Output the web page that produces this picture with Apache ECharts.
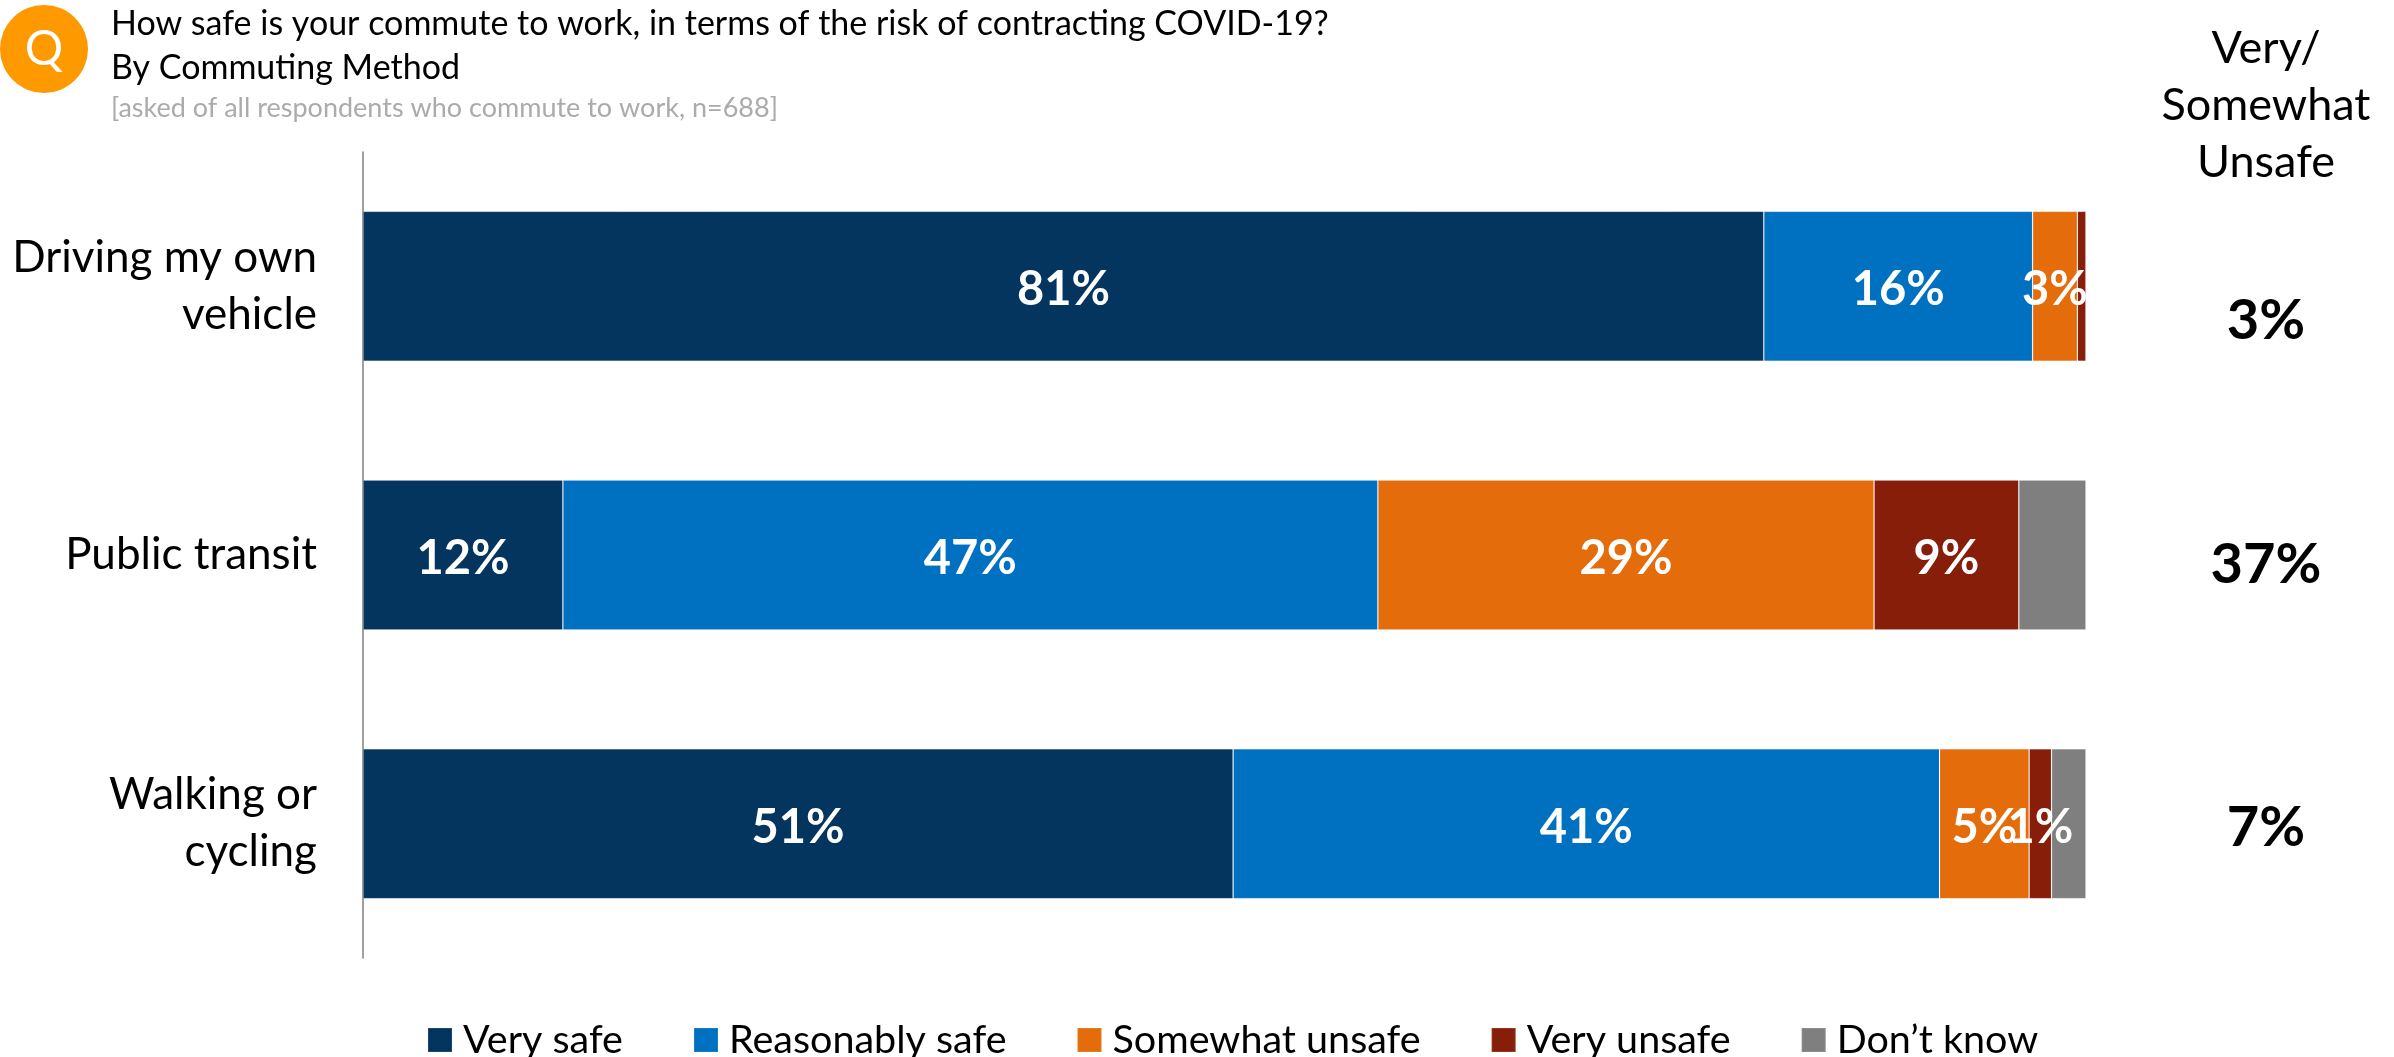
<!DOCTYPE html>
<html><head><meta charset="utf-8">
<style>html,body{margin:0;padding:0;background:#fff}#c{width:2394px;height:1057px}</style>
<script src="https://cdn.jsdelivr.net/npm/echarts@6/dist/echarts.min.js"></script>
</head><body><div id="c"></div>
<script>
const categories = ['Driving my own\nvehicle', 'Public transit', 'Walking or\ncycling'];
const seriesNames = ['Very safe', 'Reasonably safe', 'Somewhat unsafe', 'Very unsafe', 'Don\u2019t know'];
const colors = ['#03355F', '#0070C0', '#E46C0A', '#871E0A', '#7F7F7F'];
const verySafe = [81.3, 11.6, 50.5];
const reasonablySafe = [15.6, 47.3, 41.0];
const somewhatUnsafe = [2.6, 28.8, 5.2];
const veryUnsafe = [0.5, 8.4, 1.3];
const dontKnow = [0, 3.9, 2.0];
const verySafeLabels = ['81%', '12%', '51%'];
const reasonablySafeLabels = ['16%', '47%', '41%'];
const somewhatUnsafeLabels = ['3%', '29%', '5%'];
const veryUnsafeLabels = ['', '9%', '1%'];
const dontKnowLabels = ['', '', ''];
const netUnsafe = ['3%', '37%', '7%'];
const netUnsafeTitle = 'Very/\nSomewhat\nUnsafe';
const questionLines = ['How safe is your commute to work, in terms of the risk of contracting COVID-19?', 'By Commuting Method'];
const baseNote = '[asked of all respondents who commute to work, n=688]';

const FONT = 'Lato, "Open Sans", sans-serif';
const values = [verySafe, reasonablySafe, somewhatUnsafe, veryUnsafe, dontKnow];
const labels = [verySafeLabels, reasonablySafeLabels, somewhatUnsafeLabels, veryUnsafeLabels, dontKnowLabels];
const netY = [321, 565, 828];

const chart = echarts.init(document.getElementById('c'), null, {renderer: 'canvas'});
chart.setOption({
  animation: false,
  backgroundColor: '#fff',
  grid: {left: 363, top: 152, width: 1723, height: 806, containLabel: false},
  xAxis: {type: 'value', min: 0, max: 100, show: false},
  yAxis: {
    type: 'category', inverse: true, data: categories,
    axisLine: {show: true, lineStyle: {color: '#808080', width: 1.5}},
    axisTick: {show: false},
    axisLabel: {color: '#000', fontFamily: FONT, fontSize: 44, lineHeight: 57, align: 'right', margin: 46}
  },
  legend: {
    left: 427, top: 1020, padding: 0, itemWidth: 24, itemHeight: 24, itemGap: 70,
    icon: 'rect', data: seriesNames,
    textStyle: {color: '#000', fontFamily: FONT, fontSize: 39.5, lineHeight: 24, padding: [0, 0, 0, 6]},
    selectedMode: false
  },
  series: seriesNames.map((name, i) => ({
    name, type: 'bar', stack: 'total', barWidth: 150,
    data: values[i],
    itemStyle: {color: colors[i], borderColor: 'rgba(255,255,255,0.1)', borderWidth: 1},
    label: {
      show: true, position: 'inside', color: '#fff', fontFamily: FONT,
      fontWeight: 'bold', fontSize: 47,
      formatter: p => labels[i][p.dataIndex]
    },
    labelLayout: {hideOverlap: false, dy: 4},
    z: 2
  })),
  graphic: [
    {type: 'circle', shape: {cx: 44, cy: 49, r: 44}, style: {fill: '#FF9900'}},
    {type: 'text', x: 44, y: 50, style: {text: 'Q', fill: '#fff', font: '48px ' + FONT, align: 'center', verticalAlign: 'middle'}},
    {type: 'text', x: 111, y: 24, style: {text: questionLines[0], fill: '#000', font: '34px ' + FONT, align: 'left', verticalAlign: 'middle'}},
    {type: 'text', x: 111, y: 68, style: {text: questionLines[1], fill: '#000', font: '34px ' + FONT, align: 'left', verticalAlign: 'middle'}},
    {type: 'text', x: 111, y: 108, style: {text: baseNote, fill: '#ABABAB', font: '27px ' + FONT, align: 'left', verticalAlign: 'middle'}},
    {type: 'text', x: 2266, y: 105, style: {text: netUnsafeTitle, fill: '#000', font: '45px ' + FONT, lineHeight: 57, align: 'center', verticalAlign: 'middle'}},
    ...netUnsafe.map((t, i) => ({type: 'text', x: 2266, y: netY[i], style: {text: t, fill: '#000', font: 'bold 56px ' + FONT, align: 'center', verticalAlign: 'middle'}}))
  ]
});
</script></body></html>
